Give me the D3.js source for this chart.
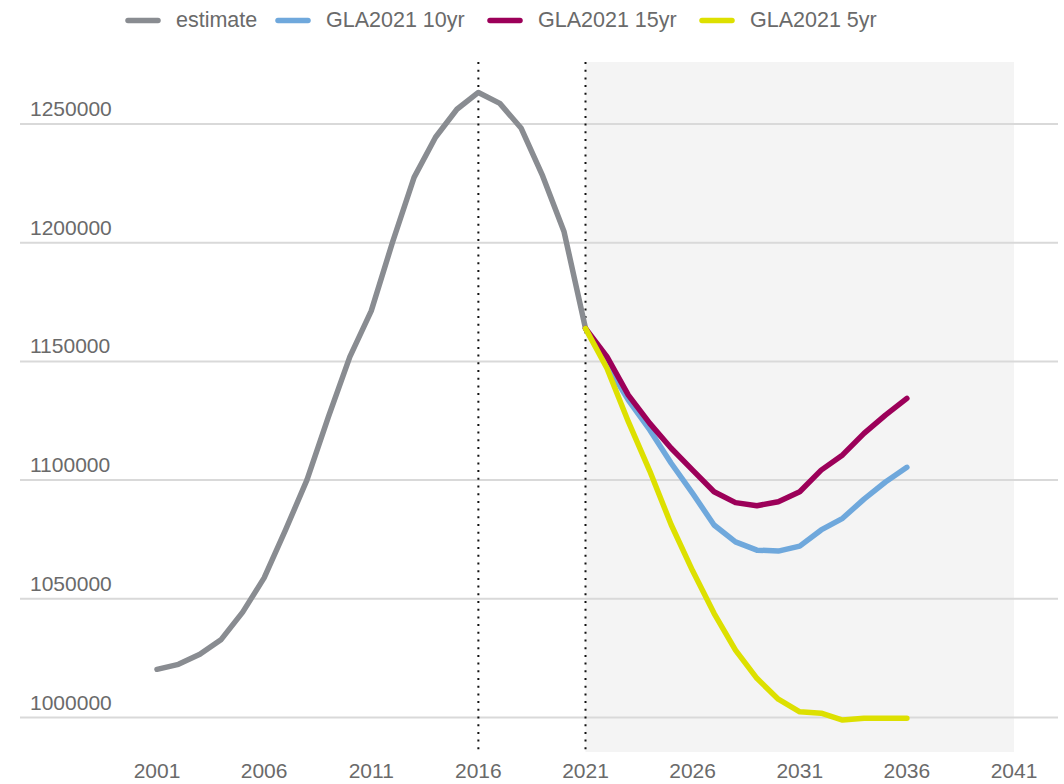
<!DOCTYPE html>
<html>
<head>
<meta charset="utf-8">
<script src="https://cdn.jsdelivr.net/npm/d3@7"></script>
<style>
  body { margin: 0; background: #fff; }
  text { font-family: "Liberation Sans", Arial, sans-serif; fill: #6a6a6a; }
</style>
</head>
<body>
<div id="chart"></div>
<script>
// data
const estYears = [2001, 2002, 2003, 2004, 2005, 2006, 2007, 2008, 2009, 2010, 2011,
                  2012, 2013, 2014, 2015, 2016, 2017, 2018, 2019, 2020, 2021];
const estimate = [1020300, 1022400, 1026600, 1032900, 1044400, 1058800, 1079000, 1100100,
                  1126600, 1151900, 1171300, 1200400, 1227500, 1244400, 1256200, 1263300,
                  1258700, 1248200, 1228100, 1204600, 1163900];

const projYears = [2021, 2022, 2023, 2024, 2025, 2026, 2027, 2028, 2029, 2030, 2031,
                   2032, 2033, 2034, 2035, 2036];
const gla10 = [1163900, 1148500, 1133700, 1121100, 1107100, 1094400, 1081100, 1074000,
               1070500, 1070100, 1072200, 1079000, 1083900, 1092000, 1099200, 1105400];
const gla15 = [1163900, 1152000, 1135800, 1123900, 1113400, 1104200, 1095100, 1090500,
               1089200, 1090900, 1095100, 1104200, 1110600, 1119700, 1127400, 1134400];
const gla5 = [1163900, 1147100, 1124600, 1103800, 1081200, 1061800, 1043900, 1028400,
              1016500, 1007700, 1002400, 1001800, 998900, 999700, 999700, 999700];

const xTicks = [2001, 2006, 2011, 2016, 2021, 2026, 2031, 2036, 2041];
const yTicks = [1000000, 1050000, 1100000, 1150000, 1200000, 1250000];
const markerYears = [2016, 2021];
const projRange = [2021, 2041];

const seriesNames = ["estimate", "GLA2021 10yr", "GLA2021 15yr", "GLA2021 5yr"];
const seriesColors = ["#898c91", "#6fa8dc", "#9c0059", "#dde000"];

const width = 1064, height = 784;
const plotTop = 62, plotBottom = 752;

const svg = d3.select("#chart")
  .append("svg")
    .attr("width", width)
    .attr("height", height);

const x = d3.scaleLinear()
  .domain([2001, 2041])
  .range([157, 1014]);

const y = d3.scaleLinear()
  .domain([1000000, 1250000])
  .range([717.5, 124]);

// shaded projection period
svg.append("rect")
  .attr("x", x(projRange[0]))
  .attr("y", plotTop)
  .attr("width", x(projRange[1]) - x(projRange[0]))
  .attr("height", plotBottom - plotTop)
  .attr("fill", "#f4f4f4");

// gridlines + y labels
const yAxis = svg.append("g");
yAxis.selectAll("line")
  .data(yTicks)
  .enter()
  .append("line")
    .attr("x1", 20)
    .attr("x2", 1058)
    .attr("y1", d => y(d))
    .attr("y2", d => y(d))
    .attr("stroke", "#d9d9d9")
    .attr("stroke-width", 2);
yAxis.selectAll("text")
  .data(yTicks)
  .enter()
  .append("text")
    .attr("x", 30)
    .attr("y", d => y(d) - 8)
    .attr("font-size", 21)
    .text(d => d);

// x labels
svg.selectAll(".xlab")
  .data(xTicks)
  .enter()
  .append("text")
    .attr("class", "xlab")
    .attr("x", d => x(d))
    .attr("y", 778)
    .attr("text-anchor", "middle")
    .attr("font-size", 21)
    .text(d => d);

// dotted markers
svg.selectAll(".marker")
  .data(markerYears)
  .enter()
  .append("line")
    .attr("class", "marker")
    .attr("x1", d => x(d))
    .attr("x2", d => x(d))
    .attr("y1", plotTop)
    .attr("y2", plotBottom)
    .attr("stroke", "#111")
    .attr("stroke-width", 2)
    .attr("stroke-dasharray", "2,5.7");

// lines
const line = d3.line()
  .x(d => x(d[0]))
  .y(d => y(d[1]));

const series = [
  d3.zip(estYears, estimate),
  d3.zip(projYears, gla10),
  d3.zip(projYears, gla15),
  d3.zip(projYears, gla5)
];

series.forEach((s, i) => {
  svg.append("path")
    .datum(s)
    .attr("d", line)
    .attr("fill", "none")
    .attr("stroke", seriesColors[i])
    .attr("stroke-width", 5.5)
    .attr("stroke-linejoin", "round")
    .attr("stroke-linecap", "round");
});

// legend
const legendX = [128, 278, 490, 702];
const legend = svg.append("g");
seriesNames.forEach((name, i) => {
  legend.append("line")
    .attr("x1", legendX[i])
    .attr("x2", legendX[i] + 30)
    .attr("y1", 20.5)
    .attr("y2", 20.5)
    .attr("stroke", seriesColors[i])
    .attr("stroke-width", 5.5)
    .attr("stroke-linecap", "round");
  legend.append("text")
    .attr("x", legendX[i] + 48)
    .attr("y", 27)
    .attr("font-size", 21.5)
    .text(name);
});
</script>
</body>
</html>
